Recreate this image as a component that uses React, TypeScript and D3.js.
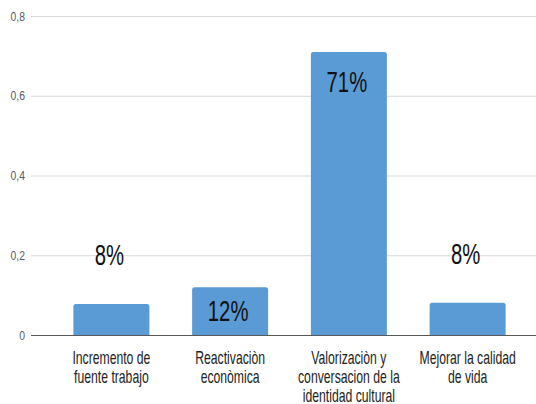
import React from "react";
import * as d3 from "d3";

const categories = [
  ["Incremento de", "fuente trabajo"],
  ["Reactivaciòn", "econòmica"],
  ["Valorizaciòn y", "conversacion de la", "identidad cultural"],
  ["Mejorar la calidad", "de vida"],
];
const values = [0.078, 0.12, 0.71, 0.081];
const dataLabels = ["8%", "12%", "71%", "8%"];
const yTicks = [0, 0.2, 0.4, 0.6, 0.8];
const yTickLabels = ["0", "0,2", "0,4", "0,6", "0,8"];

const W = 536;
const H = 404;
const FONT = "'Liberation Sans', Arial, sans-serif";

export default function App() {
  const y = d3.scaleLinear().domain([0, 0.8]).range([335, 16]);
  const x = d3
    .scaleBand<number>()
    .domain(d3.range(values.length))
    .range([52, 527])
    .paddingInner(0.36)
    .paddingOuter(0.18);

  const bw = x.bandwidth();

  return (
    <svg
      width={W}
      height={H}
      style={{ position: "absolute", left: 0, top: 0, background: "#fff" }}
    >
      {yTicks.map((t, i) => (
        <g key={i}>
          {t !== 0 && (
            <line
              x1={31}
              x2={W}
              y1={y(t) + 0.5}
              y2={y(t) + 0.5}
              stroke="#d9d9d9"
              strokeWidth={1}
            />
          )}
          <text
            transform={`translate(25,${y(t) + 4.5}) scale(0.8,1)`}
            textAnchor="end"
            fontFamily={FONT}
            fontSize={13}
            fill="#595959"
          >
            {yTickLabels[i]}
          </text>
        </g>
      ))}
      {values.map((v, i) => {
        const bx = x(i)!;
        const top = y(v);
        const r = 2.5;
        const bottom = y(0);
        const p = `M${bx},${bottom} L${bx},${top + r} Q${bx},${top} ${bx + r},${top} L${bx + bw - r},${top} Q${bx + bw},${top} ${bx + bw},${top + r} L${bx + bw},${bottom} Z`;
        return <path key={i} d={p} fill="#5b9bd5" />;
      })}
      <line x1={31} x2={W} y1={y(0) + 0.5} y2={y(0) + 0.5} stroke="#595959" strokeWidth={1} />
      {values.map((v, i) => {
        const cx = x(i)! + bw / 2;
        const top = y(v);
        const inside = top < y(0.1);
        const by = inside ? top + (v > 0.5 ? 40 : 34) : top - 39;
        return (
          <text
            key={i}
            transform={`translate(${cx - 2},${by}) scale(0.7,1)`}
            textAnchor="middle"
            fontFamily={FONT}
            fontSize={29}
            fill="#111"
          >
            {dataLabels[i]}
          </text>
        );
      })}
      {categories.map((lines, i) => {
        const cx = x(i)! + bw / 2;
        return lines.map((ln, j) => (
          <text
            key={`${i}-${j}`}
            transform={`translate(${cx},${363.5 + j * 19}) scale(0.66,1)`}
            textAnchor="middle"
            fontFamily={FONT}
            fontSize={18.5}
            fill="#222"
          >
            {ln}
          </text>
        ));
      })}
    </svg>
  );
}
